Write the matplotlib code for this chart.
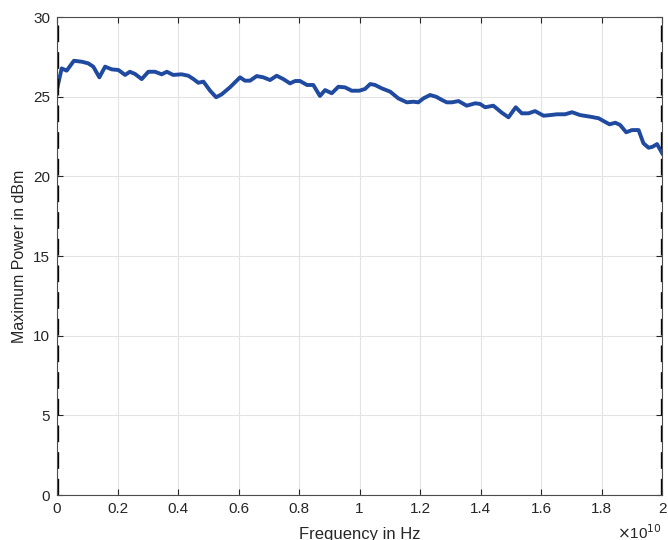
import numpy as np
import matplotlib.pyplot as plt
from matplotlib.ticker import FuncFormatter

plt.rcParams['font.family'] = ['Liberation Sans', 'DejaVu Sans']

# frequency in GHz, converted to Hz below
freq_ghz = [0.0, 0.155, 0.32, 0.56, 0.82, 1.03, 1.20, 1.40, 1.59, 1.81, 2.03, 2.25, 2.41, 2.58, 2.80,
            3.02, 3.24, 3.46, 3.63, 3.84, 4.12, 4.34, 4.51, 4.67, 4.84, 5.06, 5.26, 5.44, 5.72, 6.05,
            6.21, 6.38, 6.60, 6.82, 7.04, 7.26, 7.48, 7.70, 7.87, 8.03, 8.26, 8.47, 8.69, 8.86, 9.08,
            9.30, 9.52, 9.74, 9.99, 10.18, 10.35, 10.51, 10.73, 11.01, 11.28, 11.56, 11.78, 11.94,
            12.11, 12.33, 12.53, 12.72, 12.88, 13.05, 13.27, 13.54, 13.82, 13.98, 14.15, 14.42,
            14.70, 14.92, 15.16, 15.36, 15.58, 15.80, 16.08, 16.30, 16.52, 16.79, 17.02, 17.29,
            17.62, 17.90, 18.06, 18.26, 18.45, 18.61, 18.81, 19.00, 19.22, 19.38, 19.55, 19.68,
            19.83, 20.0]
power_dbm = [25.47, 26.78, 26.64, 27.26, 27.20, 27.10, 26.89, 26.22, 26.89, 26.72, 26.68, 26.37, 26.57,
             26.43, 26.11, 26.57, 26.57, 26.41, 26.57, 26.37, 26.41, 26.32, 26.11, 25.88, 25.95,
             25.38, 24.97, 25.15, 25.60, 26.22, 26.01, 26.01, 26.30, 26.22, 26.05, 26.32, 26.11,
             25.84, 25.99, 25.99, 25.74, 25.74, 25.05, 25.42, 25.22, 25.63, 25.59, 25.38, 25.38,
             25.49, 25.80, 25.74, 25.53, 25.32, 24.90, 24.65, 24.69, 24.65, 24.90, 25.11, 25.00,
             24.80, 24.65, 24.65, 24.73, 24.44, 24.59, 24.55, 24.34, 24.44, 24.00, 23.71, 24.34,
             23.96, 23.96, 24.10, 23.81, 23.85, 23.90, 23.90, 24.03, 23.85, 23.75, 23.65, 23.48,
             23.27, 23.37, 23.23, 22.77, 22.91, 22.91, 22.08, 21.80, 21.86, 22.03, 21.45]

freq = np.array(freq_ghz) * 1e9

fig = plt.figure(figsize=(6.68, 5.40), dpi=100)
ax = fig.add_axes([0.0853, 0.0833, 0.906, 0.885])

ax.plot(freq, power_dbm, color='#1f4aa0', linewidth=2.8)
ax.axvline(freq[0], color='black', linestyle=(0, (5, 3)), linewidth=2.4)
ax.axvline(freq[-1], color='black', linestyle=(0, (5, 3)), linewidth=2.4)

ax.set_xlim(0, 2e10)
ax.set_ylim(0, 30)
ax.set_xticks(np.arange(0, 2.01e10, 0.2e10))
ax.set_yticks(np.arange(0, 31, 5))
ax.xaxis.set_major_formatter(FuncFormatter(lambda v, p: '%g' % round(v / 1e10, 1)))

ax.grid(True, color='#e3e3e3', linewidth=0.8)
ax.set_axisbelow(True)
ax.tick_params(direction='in', length=4, width=0.8, top=True, right=True,
               labelsize=11, colors='#262626', pad=5)
for s in ax.spines.values():
    s.set_color('#4d4d4d')
    s.set_linewidth(0.8)

ax.set_xlabel('Frequency in Hz', fontsize=12, color='#262626', labelpad=8)
ax.set_ylabel('Maximum Power in dBm', fontsize=11.5, color='#262626', labelpad=4)
ax.text(1.0, -0.078, r'$\times$10$^{10}$', transform=ax.transAxes, ha='right', va='center',
        fontsize=11, color='#262626')

fig.savefig('out.png', dpi=100)
